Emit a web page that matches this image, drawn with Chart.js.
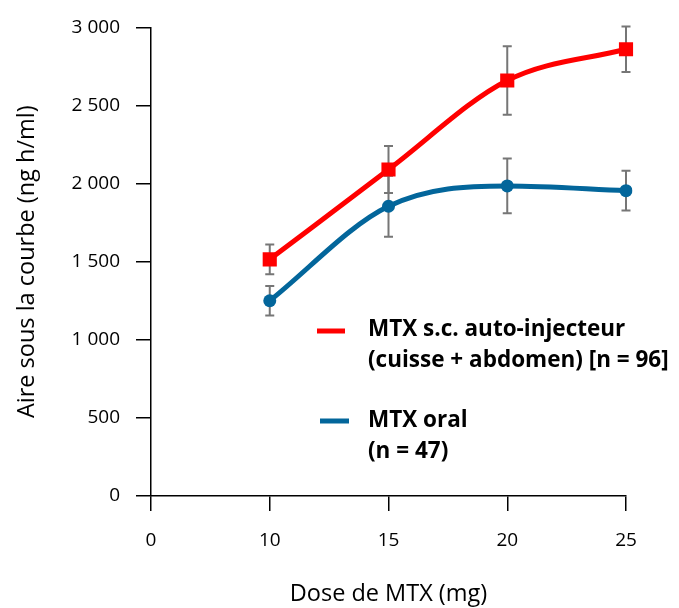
<!DOCTYPE html>
<html>
<head>
<meta charset="utf-8">
<script src="https://cdn.jsdelivr.net/npm/chart.js@4/dist/chart.umd.min.js"></script>
<style>
  html, body { margin: 0; padding: 0; background: #fff; }
  #wrap { width: 679px; height: 608px; }
</style>
</head>
<body>
<div id="wrap"><canvas id="chart"></canvas></div>
<script>
const doses = ['0', '10', '15', '20', '25'];
const autoInjector = [null, 1515, 2090, 2660, 2860];
const autoInjectorError = [null, 95, 150, 220, 145];
const oral = [null, 1250, 1855, 1985, 1955];
const oralError = [null, 95, 195, 175, 127];
const legendLines = [
  ['MTX s.c. auto-injecteur', '(cuisse + abdomen) [n = 96]'],
  ['MTX oral', '(n = 47)'],
];

const red = '#ff0000';
const blue = '#03669b';
const font = "'Open Sans', sans-serif";

function thousands(value) {
  return String(value).replace(/\B(?=(\d{3})+(?!\d))/g, ' ');
}

const errorBars = {
  id: 'errorBars',
  beforeDatasetsDraw(chart) {
    const ctx = chart.ctx;
    const y = chart.scales.y;
    ctx.save();
    ctx.strokeStyle = '#767676';
    ctx.lineWidth = 2;
    chart.data.datasets.forEach((dataset, i) => {
      const meta = chart.getDatasetMeta(i);
      dataset.errors.forEach((err, j) => {
        const value = dataset.data[j];
        if (value === null || err === null) return;
        const x = meta.data[j].x;
        const top = y.getPixelForValue(value + err);
        const bottom = y.getPixelForValue(value - err);
        ctx.beginPath();
        ctx.moveTo(x, top);
        ctx.lineTo(x, bottom);
        ctx.moveTo(x - 4.5, top);
        ctx.lineTo(x + 4.5, top);
        ctx.moveTo(x - 4.5, bottom);
        ctx.lineTo(x + 4.5, bottom);
        ctx.stroke();
      });
    });
    ctx.restore();
  },
};

const textLegend = {
  id: 'textLegend',
  afterDraw(chart) {
    const ctx = chart.ctx;
    const entries = [
      { color: red, x1: 317, x2: 345, y: 331, textY: 330 },
      { color: blue, x1: 320, x2: 349, y: 421, textY: 421 },
    ];
    ctx.save();
    entries.forEach((entry, i) => {
      ctx.strokeStyle = entry.color;
      ctx.lineWidth = 5;
      ctx.beginPath();
      ctx.moveTo(entry.x1, entry.y);
      ctx.lineTo(entry.x2, entry.y);
      ctx.stroke();
      ctx.fillStyle = '#000';
      ctx.font = `bold 22.5px ${font}`;
      ctx.textBaseline = 'middle';
      ctx.textAlign = 'left';
      legendLines[i].forEach((line, k) => {
        ctx.fillText(line, 368, entry.textY + k * 30.5);
      });
    });
    ctx.restore();
  },
};

const settings = {
  type: 'line',
  data: {
    labels: doses,
    datasets: [
      {
        label: 'MTX s.c. auto-injecteur (cuisse + abdomen) [n = 96]',
        data: autoInjector,
        errors: autoInjectorError,
        borderColor: red,
        backgroundColor: red,
        borderWidth: 5,
        pointStyle: 'rect',
        pointRadius: 10,
        pointBorderWidth: 0,
        cubicInterpolationMode: 'monotone',
      },
      {
        label: 'MTX oral (n = 47)',
        data: oral,
        errors: oralError,
        borderColor: blue,
        backgroundColor: blue,
        borderWidth: 5,
        pointStyle: 'circle',
        pointRadius: 6.5,
        pointBorderWidth: 0,
        cubicInterpolationMode: 'monotone',
      },
    ],
  },
  options: {
    responsive: true,
    maintainAspectRatio: false,
    animation: false,
    layout: {
      padding: { top: 20, right: 53, bottom: 0, left: 0 },
    },
    plugins: {
      legend: { display: false },
      tooltip: { enabled: false },
    },
    scales: {
      x: {
        offset: false,
        grid: {
          display: true,
          drawOnChartArea: false,
          drawTicks: true,
          tickLength: 15,
          color: '#000',
          lineWidth: 1.5,
        },
        border: { display: true, color: '#000', width: 1.5 },
        ticks: {
          color: '#000',
          font: { family: font, size: 19 },
          padding: 18,
        },
        title: {
          display: true,
          text: 'Dose de MTX (mg)',
          color: '#000',
          font: { family: font, size: 23.5 },
          padding: { top: 0, bottom: 0 },
        },
        afterFit(scale) {
          scale.height = 112;
        },
      },
      y: {
        min: 0,
        max: 3000,
        grid: {
          display: true,
          drawOnChartArea: false,
          drawTicks: true,
          tickLength: 15,
          color: '#000',
          lineWidth: 1.5,
        },
        border: { display: true, color: '#000', width: 1.5 },
        ticks: {
          stepSize: 500,
          color: '#000',
          font: { family: font, size: 19 },
          padding: 16,
          callback: (value) => thousands(value),
        },
        title: {
          display: true,
          text: 'Aire sous la courbe (ng h/ml)',
          color: '#000',
          font: { family: font, size: 23.5 },
          padding: { top: 13, bottom: 0 },
        },
        afterFit(scale) {
          scale.width = 151;
        },
      },
    },
  },
  plugins: [errorBars, textLegend],
};

new Chart(document.getElementById('chart'), settings);
</script>
</body>
</html>
